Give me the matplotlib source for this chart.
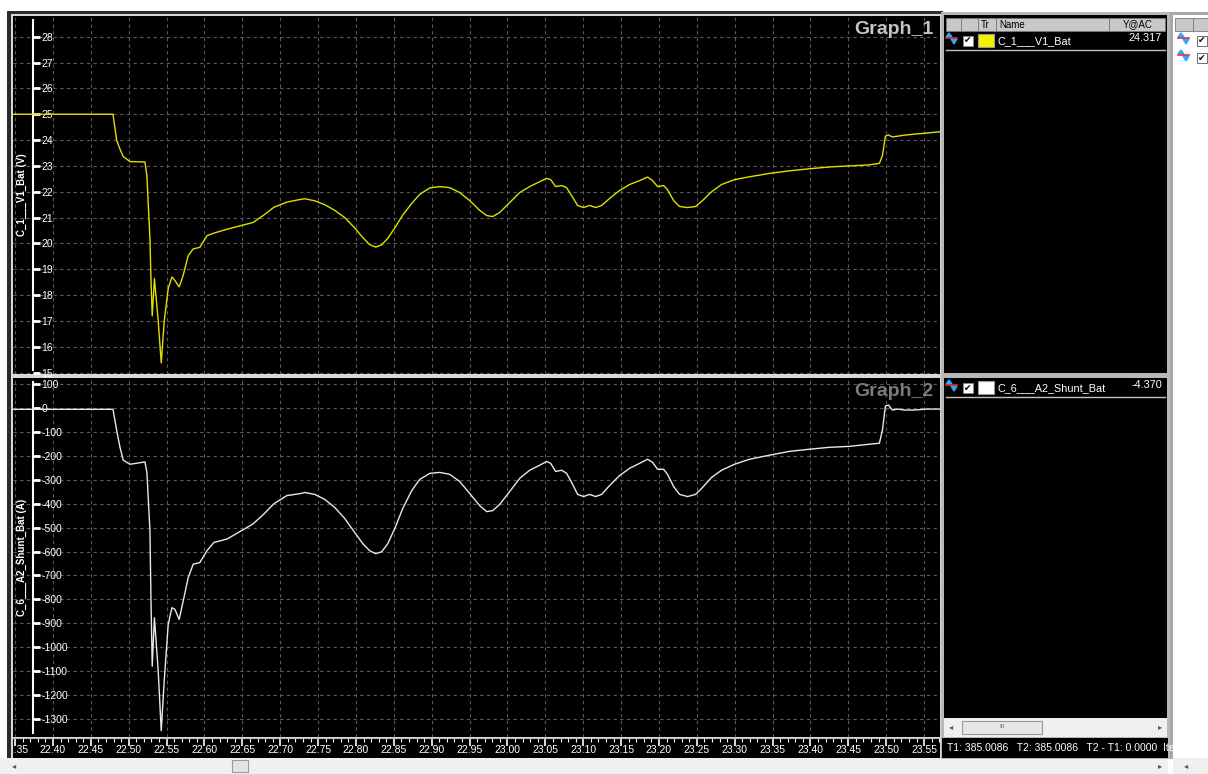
import matplotlib
matplotlib.use("Agg")
import matplotlib.pyplot as plt
from matplotlib.patches import Rectangle
from matplotlib.ticker import MultipleLocator
from matplotlib.transforms import blended_transform_factory
import numpy as np

plt.rcParams["axes.unicode_minus"] = False

W, H = 1208, 774

# time axis (same for both channels)
t = [22.3472, 22.4792, 22.4840, 22.4884, 22.4927, 22.5016, 22.5214, 22.5240,
     22.5280, 22.5293, 22.5310, 22.5339, 22.5389, 22.5429, 22.5468, 22.5521,
     22.5570, 22.5609, 22.5666, 22.5719, 22.5785, 22.5851, 22.5939, 22.6032,
     22.6124, 22.6296, 22.6427, 22.6639, 22.6784, 22.6916, 22.7087, 22.7259,
     22.7325, 22.7456, 22.7588, 22.7720, 22.7852, 22.7984, 22.8090, 22.8182,
     22.8261, 22.8340, 22.8420, 22.8512, 22.8617, 22.8736, 22.8842, 22.8974,
     22.9106, 22.9237, 22.9369, 22.9501, 22.9633, 22.9726, 22.9805, 22.9897,
     23.0029, 23.0161, 23.0293, 23.0425, 23.0517, 23.0570, 23.0636, 23.0715,
     23.0781, 23.0847, 23.0926, 23.1005, 23.1084, 23.1164, 23.1243, 23.1348,
     23.1480, 23.1612, 23.1744, 23.1850, 23.1916, 23.1982, 23.2061, 23.2113,
     23.2193, 23.2272, 23.2377, 23.2483, 23.2575, 23.2694, 23.2826, 23.2997,
     23.3195, 23.3459, 23.3723, 23.3987, 23.4251, 23.4515, 23.4778, 23.4910,
     23.4950, 23.4989, 23.5029, 23.5082, 23.5148, 23.5240, 23.5372, 23.5530,
     23.5702]

# C_1 V1_Bat battery voltage [V]
v1_bat = [25.0, 25.0, 24.0, 23.65, 23.36, 23.17, 23.15, 22.6,
          20.17, 18.64, 17.2, 18.64, 17.0, 15.38, 16.98, 18.26,
          18.7, 18.57, 18.32, 18.77, 19.53, 19.79, 19.85, 20.3,
          20.4, 20.55, 20.65, 20.81, 21.1, 21.4, 21.6, 21.70,
          21.73, 21.65, 21.5, 21.28, 21.0, 20.6, 20.23, 19.95,
          19.86, 19.95, 20.2, 20.6, 21.1, 21.55, 21.9, 22.15,
          22.2, 22.16, 21.97, 21.66, 21.28, 21.08, 21.04, 21.2,
          21.58, 21.97, 22.2, 22.39, 22.52, 22.47, 22.2, 22.24,
          22.16, 21.85, 21.47, 21.39, 21.47, 21.39, 21.47, 21.74,
          22.05, 22.28, 22.43, 22.57, 22.43, 22.2, 22.24, 22.08,
          21.66, 21.43, 21.39, 21.43, 21.66, 22.0, 22.28, 22.47,
          22.58, 22.71, 22.81, 22.89, 22.96, 23.0, 23.04, 23.1,
          23.4, 24.15, 24.2, 24.12, 24.15, 24.19, 24.23, 24.27,
          24.32]

# C_6 A2_Shunt_Bat battery current [A]
a2_shunt = [-5, -5, -92, -163, -218, -235, -225, -270,
            -513, -793, -1080, -877, -1100, -1350, -1143, -905,
            -835, -842, -884, -807, -709, -653, -646, -597,
            -562, -548, -524, -485, -443, -400, -366, -358,
            -353, -361, -382, -416, -462, -521, -567, -597,
            -609, -601, -567, -504, -420, -345, -298, -273,
            -269, -277, -307, -357, -408, -433, -429, -403,
            -349, -294, -260, -239, -223, -231, -265, -260,
            -273, -311, -361, -370, -361, -370, -361, -324,
            -282, -252, -231, -214, -227, -256, -256, -277,
            -328, -361, -370, -361, -332, -290, -260, -235,
            -214, -197, -181, -172, -164, -160, -151, -147,
            -92, 8, 13, -8, -4, -8, -8, -4,
            -4]

x_ticks = np.round(np.arange(22.35, 23.5501, 0.05), 2)
x_labels = ["%.2f" % v for v in x_ticks]

t0, t1 = 22.3472, 23.5710
BG = "#000000"
GRID = "#5a5a5a"
FONT = "Liberation Sans"

fig = plt.figure(figsize=(W / 100, H / 100), dpi=100, facecolor="white")


def px_axes(x0, y0, x1, y1, **kw):
    return fig.add_axes([x0 / W, 1 - y1 / H, (x1 - x0) / W, (y1 - y0) / H], **kw)


# background layer in pixel coordinates for window chrome
bg = px_axes(0, 0, W, H)
bg.set_xlim(0, W)
bg.set_ylim(H, 0)
bg.axis("off")


def box(x0, y0, x1, y1, fc, ec="none", lw=0, z=1):
    bg.add_patch(Rectangle((x0, y0), x1 - x0, y1 - y0, facecolor=fc,
                           edgecolor=ec, linewidth=lw, zorder=z))


def arrow(x, y, glyph, z=4):
    bg.text(x, y, glyph, color="#555555", fontsize=6, ha="center", va="center",
            family="DejaVu Sans", zorder=z)


box(0, 0, W, 12, "white")
box(7, 11, 943, 759, "#2a2a2a")
box(11, 14, 941, 758, "#d8d8d8")
box(0, 758, 1168, H, "#f0f0f0")
box(232, 760, 248, 772, "#e4e4e4", "#9a9a9a", 0.8, z=2)
arrow(14, 766, "\u25c2")
arrow(1160, 766, "\u25b8")

# right hand legend panel
box(941, 12, 1170, 759, "#b8b8b8")
box(944, 15, 1167, 373, BG, z=2)
box(944, 378, 1167, 718, BG, z=2)
box(944, 718, 1167, 737, "#f0f0f0", z=2)
box(962, 721, 1042, 734, "#e6e6e6", "#9a9a9a", 0.8, z=3)
bg.text(1002, 727, "III", color="#666666", fontsize=4.5, ha="center", va="center", zorder=4)
arrow(951, 727, "\u25c2")
arrow(1160, 727, "\u25b8")
box(942, 738, 1168, 758, BG, z=2)
bg.text(947, 748, "T1: 385.0086   T2: 385.0086   T2 - T1: 0.0000  Ite",
        color="white", fontsize=7.5, family=FONT, ha="left", va="center", zorder=4)

# header cells
for cx0, cx1, lab, ha in [(946, 961, "", "left"), (961, 978, "", "left"),
                          (978, 996, "Tr", "left"), (996, 1109, "Name", "left"),
                          (1109, 1165, "Y@AC", "right")]:
    box(cx0, 18, cx1, 31, "#c8c8c8", "#7a7a7a", 0.6, z=3)
    if lab:
        tx = cx0 + 3 if ha == "left" else cx1 - 12
        bg.text(tx, 24.5, lab, fontsize=7, family=FONT, color="black",
                ha=ha, va="center", zorder=4)


def wave_icon(x, yc):
    bg.fill([x, x + 6, x + 3], [yc - 2, yc - 2, yc - 6], color="#2aa8ff", zorder=4)
    bg.plot([x, x + 11], [yc - 1, yc - 1], color="#e03030", lw=1.2, zorder=5)
    bg.fill([x + 5, x + 11, x + 8], [yc, yc, yc + 5], color="#2aa8ff", zorder=4)


def check(x, yc, ec):
    box(x, yc - 5, x + 10, yc + 5, "white", ec, 0.6, z=4)
    bg.text(x + 5, yc, "\u2714", fontsize=6.5, color="black", ha="center", va="center",
            family="DejaVu Sans", zorder=5)


def legend_row(yc, swatch, name, value):
    wave_icon(946, yc - 2)
    check(963, yc, "#888888")
    box(978, yc - 7, 994, yc + 6, swatch, "#999999", 0.8, z=4)
    bg.text(998, yc, name, fontsize=7.8, family=FONT, color="white",
            ha="left", va="center", zorder=5)
    bg.text(1162, yc - 3, value, fontsize=7.8, family=FONT, color="white",
            ha="right", va="center", zorder=5)


legend_row(41, "#f5f000", "C_1___V1_Bat", "24.317")
bg.plot([946, 1165], [50, 50], color="#c0c0c0", lw=1, zorder=4)
legend_row(388, "white", "C_6___A2_Shunt_Bat", "-4.370")
bg.plot([946, 1165], [397, 397], color="#c0c0c0", lw=1, zorder=4)

# far right panel
box(1170, 12, W, 759, "#a8a8a8")
box(1173, 15, W, 758, "white", z=2)
box(1173, 758, W, H, "#f0f0f0", z=2)
arrow(1186, 766, "\u25c2")
for cx0, cx1 in [(1175, 1193), (1193, W + 2)]:
    box(cx0, 18, cx1, 31, "#c8c8c8", "#7a7a7a", 0.6, z=3)
for yc in (41, 58):
    wave_icon(1178, yc - 2)
    check(1197, yc, "#555555")


def graph(y0, y1, data, color, ylim, ystep, ylabel, title, title_color):
    ax = px_axes(13, y0, 940, y1)
    ax.set_facecolor(BG)
    ax.plot(t, data, color=color, lw=1.0, zorder=3)
    ax.set_xlim(t0, t1)
    ax.set_ylim(*ylim)
    ax.xaxis.set_major_locator(MultipleLocator(0.05))
    ax.yaxis.set_major_locator(MultipleLocator(ystep))
    ax.grid(True, color=GRID, ls=(0, (3, 3)), lw=0.8)
    ax.tick_params(axis="x", length=0, labelbottom=False)
    for s in ("left", "top", "bottom"):
        ax.spines[s].set_visible(False)
    # value scale drawn a little inside the plot, ticks and numbers to its right
    ax.yaxis.tick_right()
    ax.spines["right"].set_position(("axes", 20 / 927))
    ax.spines["right"].set_color("white")
    ax.spines["right"].set_linewidth(1.5)
    ax.spines["right"].set_bounds(ylim[0] + 0.012 * (ylim[1] - ylim[0]),
                                  ylim[1] - 0.012 * (ylim[1] - ylim[0]))
    ax.tick_params(axis="y", direction="out", length=5, width=2, colors="white",
                   pad=1, labelsize=7.5)
    for lab in ax.get_yticklabels():
        lab.set_family(FONT)
    ax.text(9 / 927, 0.5, ylabel, transform=ax.transAxes, rotation=90,
            color="white", fontsize=7, fontweight="bold", family=FONT,
            ha="center", va="center")
    ax.text(0.9925, 0.985, title, transform=ax.transAxes, color=title_color,
            fontsize=14, fontweight="bold", family=FONT, ha="right", va="top")
    return ax


graph(16, 374, v1_bat, "#e0e000", (14.95, 28.8), 1, "C_1___V1_Bat (V)",
      "Graph_1", "#c4c4c4")
graph(378, 737, a2_shunt, "#e8e8e8", (-1376, 126), 100, "C_6___A2_Shunt_Bat (A)",
      "Graph_2", "#7a7a7a")

# time scale strip under the graphs
sx = px_axes(13, 738, 940, 758)
sx.set_facecolor(BG)
sx.set_xlim(t0, t1)
sx.set_ylim(0, 1)
sx.set_yticks([])
for s in ("left", "right", "bottom"):
    sx.spines[s].set_visible(False)
sx.spines["top"].set_color("#bbbbbb")
sx.set_xticks(x_ticks)
sx.xaxis.set_minor_locator(MultipleLocator(0.01))
sx.tick_params(axis="x", which="both", top=True, bottom=False, direction="in",
               colors="white", labelbottom=False)
sx.tick_params(axis="x", which="major", length=6, width=1.2)
sx.tick_params(axis="x", which="minor", length=3, width=0.8)
tr = blended_transform_factory(sx.transData, sx.transAxes)
for xv, lab in zip(x_ticks, x_labels):
    sx.text(xv, 0.38, lab, transform=tr, color="white", fontsize=7.5, family=FONT,
            ha="center", va="center", clip_on=True)

fig.savefig("out.png", dpi=100, facecolor=fig.get_facecolor())
